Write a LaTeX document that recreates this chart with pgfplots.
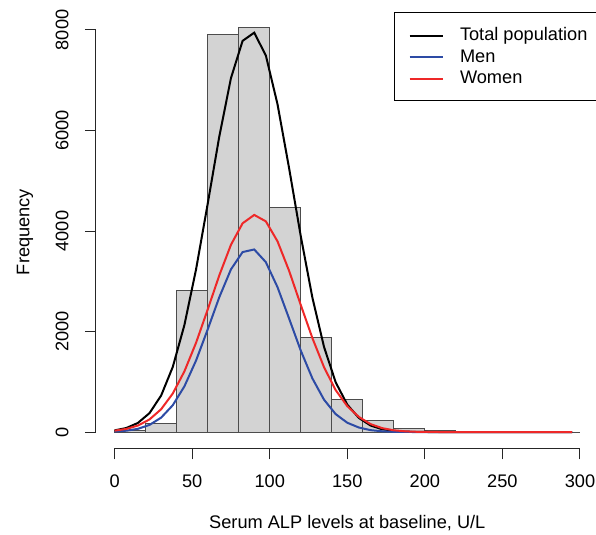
\documentclass[border=0pt]{standalone}
\usepackage{pgfplots}
\pgfplotsset{compat=1.18}
\usepackage{fontspec}
\setmainfont{Liberation Sans}
\definecolor{histgray}{RGB}{211,211,211}
\definecolor{menblue}{RGB}{45,75,165}
\definecolor{womenred}{RGB}{238,40,40}
\newcommand{\chartfont}{\fontsize{9.1}{11}\selectfont}

\begin{document}
\begin{tikzpicture}
\begin{axis}[
    at={(0,0)}, anchor=south west,
    width=251.3pt, height=219.3pt, scale only axis,
    xmin=-12, xmax=312, ymin=-323, ymax=8403,
    clip=false,
    axis line style={draw=none},
    tick align=outside, tick pos=left,
    major tick length=5.5pt,
    tick style={black!85, line width=0.5pt},
    xtick={0,50,100,150,200,250,300},
    xticklabels={0,50,100,150,200,250,300},
    ytick={0,2000,4000,6000,8000},
    yticklabels={0,2000,4000,6000,8000},
    /pgf/number format/assume math mode=true,
    tick label style={font=\chartfont},
    xticklabel style={anchor=center, yshift=-10.9pt},
    yticklabel style={xshift=-11.5pt, rotate=90, anchor=center},
    xlabel={Serum ALP levels at baseline, U/L},
    ylabel={Frequency},
    label style={font=\chartfont},
    xlabel style={at={(axis description cs:0.5,-0.1705)}, anchor=center},
    ylabel style={at={(axis description cs:-0.1413,0.493)}, anchor=center},
    legend style={at={(rel axis cs:1,0.995)}, anchor=north east,
        draw=black, line width=0.5pt, fill=white, font=\chartfont,
        inner xsep=5.3pt, inner ysep=6.7pt, row sep=1.75pt, column sep=8pt,
        nodes={inner sep=0pt, text height=7.5pt, text depth=1.5pt}},
    legend cell align=left,
    legend image code/.code={\path (0pt,-0.5pt);
        \draw[#1] (1.8pt,-0.5pt) -- (18.5pt,-0.5pt);},
]
% histogram, bins of 20 U/L
\addplot[ybar interval, fill=histgray, draw=black!70, line width=0.5pt, forget plot] coordinates {
    (0,40) (20,180) (40,2815) (60,7915) (80,8050) (100,4465) (120,1880)
    (140,655) (160,228) (180,68) (200,33) (220,12) (240,4) (260,2) (280,1) (300,1)
};

% total population
\addplot[black, line width=1pt] coordinates {
    (0,33) (7.5,80) (15,181) (22.5,377) (30,727) (37.5,1296) (45,2130)
    (52.5,3236) (60,4540) (67.5,5884) (75,7042) (82.5,7783) (90,7946)
    (97.5,7492) (105,6524) (112.5,5247) (120,3898) (127.5,2674) (135,1694)
    (142.5,991) (150,545) (157.5,280) (165,130) (172.5,56) (180,22) (187.5,8)
    (195,3) (202.5,1) (210,0) (295,0)
}; \addlegendentry{Total population}

% men
\addplot[menblue, line width=1pt] coordinates {
    (0,10) (7.5,27) (15,64) (22.5,142) (30,287) (37.5,534) (45,910)
    (52.5,1423) (60,2041) (67.5,2684) (75,3237) (82.5,3581) (90,3633)
    (97.5,3380) (105,2884) (112.5,2257) (120,1621) (127.5,1067) (135,644)
    (142.5,357) (150,185) (157.5,90) (165,38) (172.5,15) (180,5) (187.5,2)
    (195,0.5) (202.5,0) (295,0)
}; \addlegendentry{Men}

% women
\addplot[womenred, line width=1pt] coordinates {
    (0,28) (7.5,62) (15,129) (22.5,251) (30,454) (37.5,767) (45,1208)
    (52.5,1776) (60,2437) (67.5,3119) (75,3726) (82.5,4153) (90,4320)
    (97.5,4192) (105,3796) (112.5,3207) (120,2529) (127.5,1870) (135,1290)
    (142.5,835) (150,515) (157.5,300) (165,158) (172.5,78) (180,35) (187.5,14)
    (195,5) (202.5,2) (210,1) (217.5,0) (295,0)
}; \addlegendentry{Women}

% R-style axis lines, spanning the ticks only
\draw[black!85, line width=0.5pt] (axis cs:0,-323) -- (axis cs:300,-323);
\draw[black!85, line width=0.5pt] (axis cs:-12,0) -- (axis cs:-12,8000);
\end{axis}
\pgfresetboundingbox
\useasboundingbox (-48pt,-43.35pt) rectangle (250pt,224.15pt);
\end{tikzpicture}
\end{document}
